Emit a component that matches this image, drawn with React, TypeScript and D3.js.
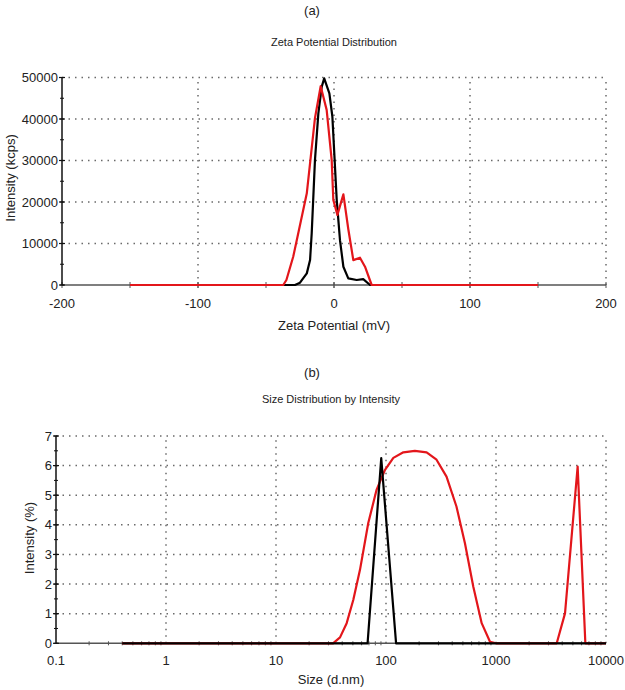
import React from "react";
import * as d3 from "d3";

// ---------- Data: (a) Zeta potential ----------
const zetaXTicks = [-200, -100, 0, 100, 200];
const zetaYTicks = [0, 10000, 20000, 30000, 40000, 50000];
const redZetaX = [-150, -37.3, -35, -30, -27.5, -20, -14, -9.8, -5.4, -1.7, -0.5, 2.5, 6.9, 10.5, 14.2, 19.1, 22.8, 27.7, 150];
const redZetaY = [0, 0, 1200, 6800, 10600, 22100, 40200, 47900, 42200, 30100, 20500, 16900, 21850, 13500, 6000, 6580, 4400, 0, 0];
const blackZetaX = [-37.5, -28.7, -25, -20, -17.6, -16.4, -14, -11.5, -9, -7.2, -3.4, -1.2, 2, 4.4, 6.9, 10.5, 16.7, 21.5, 26.5, 150];
const blackZetaY = [0, 0, 560, 2800, 6000, 12450, 30100, 41350, 47800, 49800, 46200, 40600, 20500, 10800, 4400, 1600, 1200, 1400, 0, 0];

// ---------- Data: (b) Size distribution ----------
const sizeXTicks = [0.1, 1, 10, 100, 1000, 10000];
const sizeXLabels = ["0.1", "1", "10", "100", "1000", "10000"];
const sizeYTicks = [0, 1, 2, 3, 4, 5, 6, 7];
const redSizeX = [0.4, 33, 38.2, 43.9, 50.4, 58, 69, 82, 98, 116.6, 143.8, 183, 234, 288, 355, 437, 522, 622, 741, 882, 1000, 3564, 4240, 5524, 6490, 10000];
const redSizeY = [0, 0, 0.2, 0.68, 1.46, 2.48, 4.06, 5.18, 5.86, 6.26, 6.45, 6.5, 6.45, 6.2, 5.63, 4.62, 3.38, 1.91, 0.68, 0.05, 0, 0, 1.01, 5.97, 0, 0];
const blackSizeX = [0.4, 68, 90.5, 123.5, 10000];
const blackSizeY = [0, 0, 6.25, 0, 0];

const FONT = "'Liberation Sans', Arial, Helvetica, sans-serif";
const RED = "#e3161b";
const GRID = "#6a6a6a";
const AXISX = "#555";

function zip(xs: number[], ys: number[]): [number, number][] {
  return xs.map((x, i) => [x, ys[i]]);
}

export default function App() {
  // ---- panel (a) scales
  const ax = d3.scaleLinear().domain([-200, 200]).range([62, 606]);
  const ay = d3.scaleLinear().domain([0, 50000]).range([285, 77.5]);
  const aLine = d3.line<[number, number]>().x(d => ax(d[0])).y(d => ay(d[1]));
  const aMinorX = d3.range(-150, 200, 50);
  const aMinorY = d3.range(0, 50001, 5000);

  // ---- panel (b) scales
  const bx = d3.scaleLog().domain([0.1, 10000]).range([56, 606]);
  const by = d3.scaleLinear().domain([0, 7]).range([643.3, 436]);
  const bLine = d3.line<[number, number]>().x(d => bx(d[0])).y(d => by(d[1]));
  const bMinorX: number[] = [];
  [0.1, 1, 10, 100, 1000].forEach(dec => {
    for (let k = 2; k <= 9; k++) bMinorX.push(dec * k);
  });
  const bMinorY = d3.range(0, 7.01, 0.5);

  const dot = "1.5 5";

  return (
    <svg width={625} height={690} style={{ position: "absolute", left: 0, top: 0, background: "#fff" }} fontFamily={FONT}>
      {/* ================= Panel (a) ================= */}
      <text x={312} y={15} fontSize={13} textAnchor="middle" fill="#222">(a)</text>
      <text x={334} y={46} fontSize={11} textAnchor="middle" fill="#222">Zeta Potential Distribution</text>

      {/* grid */}
      {zetaYTicks.filter(t => t > 0).map(t => (
        <line key={"agy" + t} x1={ax(-200)} x2={ax(200)} y1={ay(t)} y2={ay(t)} stroke={GRID} strokeWidth={1.5} strokeDasharray={dot} />
      ))}
      {zetaXTicks.filter(t => t > -200).map(t => (
        <line key={"agx" + t} x1={ax(t)} x2={ax(t)} y1={ay(0)} y2={ay(50000)} stroke={GRID} strokeWidth={1.5} strokeDasharray={dot} />
      ))}

      {/* x axis */}
      <line x1={ax(-200)} x2={ax(200)} y1={ay(0)} y2={ay(0)} stroke={AXISX} strokeWidth={1.5} />
      {aMinorX.map(t => (
        <line key={"amx" + t} x1={ax(t)} x2={ax(t)} y1={ay(0) - 3} y2={ay(0) + 3} stroke={AXISX} strokeWidth={1} />
      ))}
      {zetaXTicks.map(t => (
        <line key={"amjx" + t} x1={ax(t)} x2={ax(t)} y1={ay(0) - 3} y2={ay(0) + 3} stroke={AXISX} strokeWidth={1} />
      ))}
      {zetaXTicks.map(t => (
        <text key={"axl" + t} x={ax(t)} y={308} fontSize={13} textAnchor="middle" fill="#222">{t}</text>
      ))}
      <text x={334} y={330} fontSize={13} textAnchor="middle" fill="#222">Zeta Potential (mV)</text>

      {/* y axis */}
      <line x1={ax(-200)} x2={ax(-200)} y1={ay(0)} y2={ay(50000)} stroke="#111" strokeWidth={1.5} />
      {aMinorY.map(t => (
        <line key={"amy" + t} x1={ax(-200) - 2} x2={ax(-200) + 2} y1={ay(t)} y2={ay(t)} stroke="#111" strokeWidth={1} />
      ))}
      {zetaYTicks.map(t => (
        <line key={"amjy" + t} x1={ax(-200) - 3} x2={ax(-200) + 3} y1={ay(t)} y2={ay(t)} stroke="#111" strokeWidth={1.2} />
      ))}
      {zetaYTicks.map(t => (
        <text key={"ayl" + t} x={58} y={ay(t) + 4.5} fontSize={13} textAnchor="end" fill="#222">{t}</text>
      ))}
      <text transform={`translate(12,178) rotate(-90)`} fontSize={13} textAnchor="middle" dominantBaseline="middle" fill="#222">Intensity (kcps)</text>

      {/* data */}
      <path d={aLine(zip(blackZetaX, blackZetaY)) || ""} fill="none" stroke="#000" strokeWidth={2.2} strokeLinejoin="round" />
      <path d={aLine(zip(redZetaX, redZetaY)) || ""} fill="none" stroke={RED} strokeWidth={2.2} strokeLinejoin="round" />

      {/* ================= Panel (b) ================= */}
      <text x={312} y={377} fontSize={13} textAnchor="middle" fill="#222">(b)</text>
      <text x={331} y={403} fontSize={11} textAnchor="middle" fill="#222">Size Distribution by Intensity</text>

      {/* grid */}
      {sizeYTicks.filter(t => t > 0).map(t => (
        <line key={"bgy" + t} x1={bx(0.1)} x2={bx(10000)} y1={by(t)} y2={by(t)} stroke={GRID} strokeWidth={1.5} strokeDasharray={dot} />
      ))}
      {sizeXTicks.filter(t => t > 0.1).map(t => (
        <line key={"bgx" + t} x1={bx(t)} x2={bx(t)} y1={by(0)} y2={by(7)} stroke={GRID} strokeWidth={1.5} strokeDasharray={dot} />
      ))}

      {/* x axis */}
      <line x1={bx(0.1)} x2={bx(10000)} y1={by(0)} y2={by(0)} stroke={AXISX} strokeWidth={1.5} />
      {bMinorX.map(t => (
        <line key={"bmx" + t} x1={bx(t)} x2={bx(t)} y1={by(0) - 2} y2={by(0) + 2} stroke={AXISX} strokeWidth={1} />
      ))}
      {sizeXTicks.map((t, i) => (
        <text key={"bxl" + t} x={bx(t)} y={665} fontSize={13} textAnchor="middle" fill="#222">{sizeXLabels[i]}</text>
      ))}
      <text x={331} y={684} fontSize={13} textAnchor="middle" fill="#222">Size (d.nm)</text>

      {/* y axis */}
      <line x1={bx(0.1)} x2={bx(0.1)} y1={by(0)} y2={by(7)} stroke="#111" strokeWidth={1.5} />
      {bMinorY.map(t => (
        <line key={"bmy" + t} x1={bx(0.1) - 2} x2={bx(0.1) + 2} y1={by(t)} y2={by(t)} stroke="#111" strokeWidth={1} />
      ))}
      {sizeYTicks.map(t => (
        <line key={"bmjy" + t} x1={bx(0.1) - 3} x2={bx(0.1) + 3} y1={by(t)} y2={by(t)} stroke="#111" strokeWidth={1.2} />
      ))}
      {sizeYTicks.map(t => (
        <text key={"byl" + t} x={52} y={by(t) + 4.5} fontSize={13} textAnchor="end" fill="#222">{t}</text>
      ))}
      <text transform={`translate(31,538) rotate(-90)`} fontSize={13} textAnchor="middle" dominantBaseline="middle" fill="#222">Intensity (%)</text>

      {/* data */}
      <path d={bLine(zip(redSizeX, redSizeY)) || ""} fill="none" stroke={RED} strokeWidth={2.2} strokeLinejoin="round" />
      <path d={bLine(zip(blackSizeX, blackSizeY)) || ""} fill="none" stroke="#000" strokeWidth={2.2} strokeLinejoin="round" />
    </svg>
  );
}
